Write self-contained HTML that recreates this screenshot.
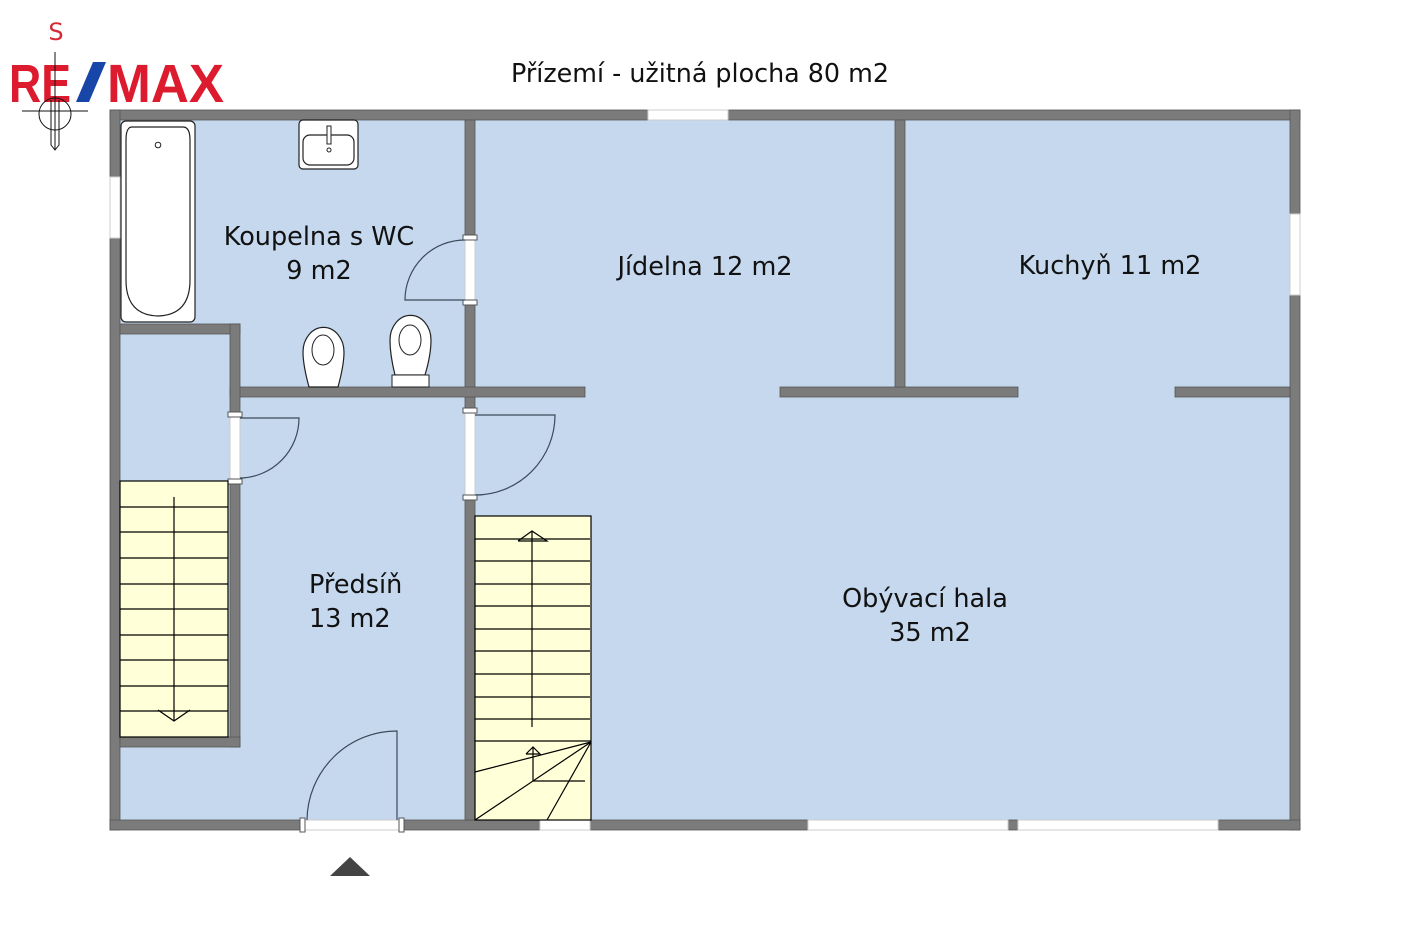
<!DOCTYPE html>
<html><head><meta charset="utf-8"><style>
html,body{margin:0;padding:0;background:#fff;}
svg{display:block;}
text{font-family:"DejaVu Sans","Liberation Sans",sans-serif;fill:#111;}
</style></head><body>
<svg width="1410" height="940" viewBox="0 0 1410 940" xmlns="http://www.w3.org/2000/svg">
<rect x="110" y="110" width="1190" height="720" fill="#c5d8ee"/>
<g fill="#7b7b7b" stroke="#555" stroke-width="0.8">
<rect x="110" y="110" width="538" height="10"/>
<rect x="728" y="110" width="572" height="10"/>
<rect x="110" y="110" width="10" height="67"/>
<rect x="110" y="238" width="10" height="592"/>
<rect x="1290" y="110" width="10" height="104"/>
<rect x="1290" y="295" width="10" height="535"/>
<rect x="110" y="820" width="192" height="10"/>
<rect x="402" y="820" width="138" height="10"/>
<rect x="590" y="820" width="218" height="10"/>
<rect x="1008" y="820" width="10" height="10"/>
<rect x="1218" y="820" width="82" height="10"/>
<rect x="465" y="120" width="10" height="118"/>
<rect x="465" y="303" width="10" height="107"/>
<rect x="465" y="498" width="10" height="322"/>
<rect x="230" y="387" width="355" height="10"/>
<rect x="780" y="387" width="238" height="10"/>
<rect x="1175" y="387" width="115" height="10"/>
<rect x="895" y="120" width="10" height="267"/>
<rect x="120" y="324" width="120" height="10"/>
<rect x="230" y="324" width="10" height="91"/>
<rect x="230" y="482" width="10" height="265"/>
<rect x="120" y="737" width="120" height="10"/>
</g>
<g fill="#fff" stroke="#ccc" stroke-width="1">
<rect x="648" y="110" width="80" height="10"/>
<rect x="110" y="177" width="10" height="61"/>
<rect x="1290" y="214" width="10" height="81"/>
<rect x="540" y="820" width="50" height="10"/>
<rect x="808" y="820" width="200" height="10"/>
<rect x="1018" y="820" width="200" height="10"/>
<rect x="302" y="820" width="100" height="10"/>
<rect x="465" y="238" width="10" height="65"/>
<rect x="230" y="415" width="10" height="67"/>
<rect x="465" y="410" width="10" height="88"/>
</g>
<g fill="#fff" stroke="#555" stroke-width="1">
<rect x="463" y="235" width="14" height="5"/><rect x="463" y="300" width="14" height="5"/>
<rect x="228" y="412" width="14" height="5"/><rect x="228" y="479" width="14" height="5"/>
<rect x="463" y="408" width="14" height="5"/><rect x="463" y="495" width="14" height="5"/>
<rect x="300" y="818" width="5" height="14"/><rect x="399" y="818" width="5" height="14"/>
</g>
<g fill="none" stroke="#3a4a5a" stroke-width="1.2">
<path d="M465 300 H405 A60 60 0 0 1 465 240"/>
<path d="M240 418 H299 A60 60 0 0 1 240 478"/>
<path d="M475 415 H555 A80 80 0 0 1 475 495"/>
<path d="M397 820 V731 A90 90 0 0 0 307 820"/>
</g>
<rect x="120" y="481" width="108" height="256" fill="#ffffd8" stroke="#000" stroke-width="1.2"/>
<g stroke="#000" stroke-width="1.2" fill="none">
<path d="M120 507H228M120 532H228M120 558H228M120 584H228M120 609H228M120 635H228M120 660H228M120 686H228M120 711H228"/>
<path d="M174 497V721M158 710L174 721L190 710"/>
</g>
<rect x="475" y="516" width="116" height="304" fill="#ffffd8" stroke="#000" stroke-width="1.2"/>
<g stroke="#000" stroke-width="1.2" fill="none">
<path d="M475 539H590M475 561H590M475 584H590M475 606H590M475 629H590M475 651H590M475 674H590M475 697H590M475 719H590M475 741H591"/>
<path d="M532 727V531M518 541L532 531L547 541H518"/>
<path d="M591 742L475 772M591 742L475 820M591 742L547 820"/>
<path d="M533 781V747M526 754L533 747L540 754H526M533 781H585"/>
</g>
<rect x="121" y="121" width="74" height="201" rx="5" fill="#fff" stroke="#222" stroke-width="1.2"/>
<path d="M132 127 H183 Q190 127 190 140 V280 Q190 315 158 316 Q126 315 126 280 V140 Q126 127 132 127Z" fill="#fff" stroke="#222" stroke-width="1.2"/>
<circle cx="158" cy="145" r="2.8" fill="#fff" stroke="#222"/>
<rect x="299" y="120" width="59" height="49" rx="4" fill="#fff" stroke="#222" stroke-width="1.2"/>
<rect x="303" y="135" width="51" height="30" rx="7" fill="#fff" stroke="#222" stroke-width="1.2"/>
<rect x="327" y="126" width="4" height="18" fill="#fff" stroke="#222"/>
<circle cx="329" cy="150" r="2" fill="#fff" stroke="#222"/>
<path d="M309 387 Q303 365 303 352 A20 24 0 0 1 344 352 Q344 365 338 387Z" fill="#fff" stroke="#222" stroke-width="1.2"/>
<ellipse cx="323" cy="350" rx="11" ry="15" fill="#fff" stroke="#222"/>
<path d="M395 375 Q390 355 390 340 A20 24 0 0 1 431 340 Q431 355 425 375Z" fill="#fff" stroke="#222" stroke-width="1.2"/>
<ellipse cx="410" cy="340" rx="11" ry="15" fill="#fff" stroke="#222"/>
<rect x="392" y="375" width="37" height="12" fill="#fff" stroke="#222"/>
<polygon points="330,876 370,876 350,857" fill="#444"/>
<g font-size="25.5">
<text x="700" y="82" text-anchor="middle" textLength="378" lengthAdjust="spacingAndGlyphs">Přízemí - užitná plocha 80 m2</text>
<text x="319" y="245" text-anchor="middle">Koupelna s WC</text>
<text x="319" y="279" text-anchor="middle">9 m2</text>
<text x="705" y="275" text-anchor="middle">Jídelna 12 m2</text>
<text x="1110" y="274" text-anchor="middle">Kuchyň 11 m2</text>
<text x="309" y="593">Předsíň</text>
<text x="309" y="627">13 m2</text>
<text x="925" y="607" text-anchor="middle">Obývací hala</text>
<text x="930" y="641" text-anchor="middle">35 m2</text>
</g>
<text x="56" y="40" font-size="24" text-anchor="middle" style="fill:#d42a34">S</text>
<text x="9" y="102" font-size="54" font-weight="bold" textLength="62" lengthAdjust="spacingAndGlyphs" style="fill:#dc1c2e;font-family:'Liberation Sans',sans-serif">RE</text>
<polygon points="93,62 106,62 89,102 76,102" fill="#1846a8"/>
<text x="107" y="102" font-size="54" font-weight="bold" textLength="117" lengthAdjust="spacingAndGlyphs" style="fill:#dc1c2e;font-family:'Liberation Sans',sans-serif">MAX</text>
<g stroke="#111" stroke-width="1" fill="none">
<path d="M55 52V150"/>
<circle cx="55" cy="114" r="16"/>
<path d="M22 111H88"/>
<path d="M51 100V145L55 150L59 145V100"/>
</g>
</svg>
</body></html>
